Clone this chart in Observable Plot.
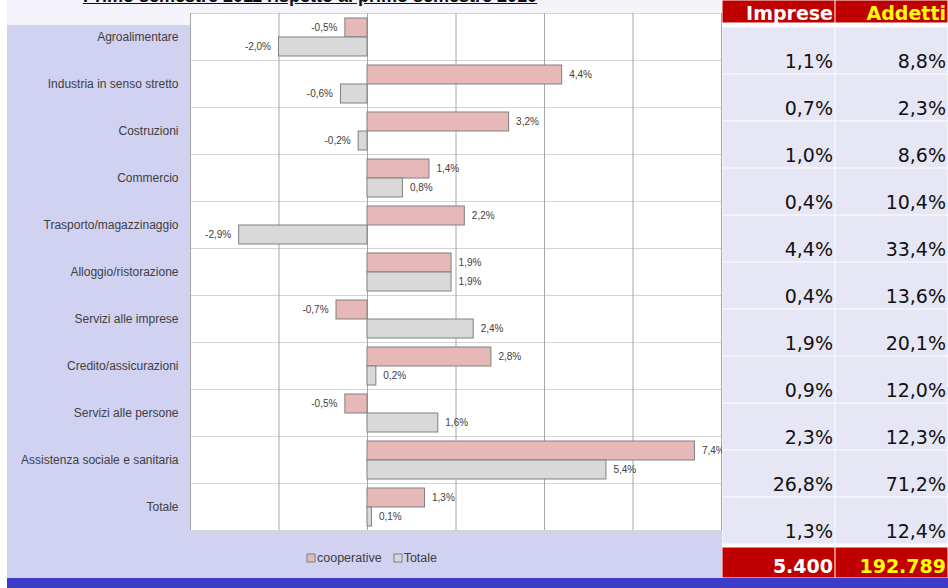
<!DOCTYPE html>
<html><head><meta charset="utf-8">
<script src="https://cdn.jsdelivr.net/npm/d3@7"></script>
<script src="https://cdn.jsdelivr.net/npm/@observablehq/plot@0.6"></script>
<style>
html,body{margin:0;padding:0;background:#fff}
#root{position:relative;width:948px;height:588px;overflow:hidden;background:#fff}
.abs{position:absolute}
#topband{left:7px;top:0;width:941px;height:25px;background:#f3f3f9}
#lav{left:7px;top:25px;width:941px;height:553px;background:#d1d1f1}
#blue{left:7px;top:578px;width:941px;height:10px;background:#3c3cc8}
#title{left:10px;top:-14px;width:600px;text-align:center;font:bold 18px 'Liberation Sans',Arial,sans-serif;color:#111;text-decoration:underline;white-space:nowrap;line-height:20px}
#chart{left:0;top:0}
#legend{left:307px;top:551px}
#thead{left:722px;top:0}
#tbody{left:722px;top:23px}
#tfoot{left:722px;top:547px}
.lg-swatches-wrap{min-height:0 !important;}
.lg-swatch{margin-right:12px !important}
.lg-swatch > svg{margin-right:2px !important}
.lg-swatch rect{stroke:#7f7f7f;stroke-width:1}
</style></head><body>
<div id="root">
  <div id="topband" class="abs"></div>
  <div id="lav" class="abs"></div>
  <div id="blue" class="abs"></div>
  <div id="title" class="abs">Primo semestre 2011 rispetto al primo semestre 2010</div>
  <div id="chart" class="abs"></div>
  <div id="legend" class="abs"></div>
  <div id="thead" class="abs"></div>
  <div id="tbody" class="abs"></div>
  <div id="tfoot" class="abs"></div>
</div>
<script>
// ---- data ----
const categories = ["Agroalimentare","Industria in senso stretto","Costruzioni","Commercio","Trasporto/magazzinaggio","Alloggio/ristorazione","Servizi alle imprese","Credito/assicurazioni","Servizi alle persone","Assistenza sociale e sanitaria","Totale"];
const series = ["cooperative","Totale"];
const cooperative = [-0.5, 4.4, 3.2, 1.4, 2.2, 1.9, -0.7, 2.8, -0.5, 7.4, 1.3];
const totale = [-2.0, -0.6, -0.2, 0.8, -2.9, 1.9, 2.4, 0.2, 1.6, 5.4, 0.1];
const gridTicks = [-4, -2, 0, 2, 4, 6, 8];
const tableColumns = ["Imprese","Addetti"];
const imprese = [1.1, 0.7, 1.0, 0.4, 4.4, 0.4, 1.9, 0.9, 2.3, 26.8, 1.3];
const addetti = [8.8, 2.3, 8.6, 10.4, 33.4, 13.6, 20.1, 12.0, 12.3, 71.2, 12.4];
const totals = [5400, 192789];

const seriesColors = ["#e6b8b7", "#d9d9d9"];
const fmt = v => v.toFixed(1).replace(".", ",") + "%";
const itFmt = d3.formatLocale({decimal: ",", thousands: ".", grouping: [3], currency: ["", "€"]}).format(",");

const rows = [];
categories.forEach((c, i) => {
  rows.push({cat: c, series: "cooperative", value: cooperative[i]});
  rows.push({cat: c, series: "Totale", value: totale[i]});
});

const chart = Plot.plot({
  width: 948, height: 540,
  marginTop: 11, marginBottom: 8, marginLeft: 190, marginRight: 227,
  style: {background: "transparent", fontFamily: "'Liberation Sans', Arial, sans-serif", fontSize: "12px", color: "#404040", overflow: "visible"},
  facet: {data: rows, y: "cat"},
  fy: {domain: categories, padding: 0, axis: "left", tickSize: 0, tickPadding: 12, label: null},
  y: {domain: series, paddingInner: 0, paddingOuter: 0.18, axis: null},
  x: {domain: [-4, 8], axis: null},
  color: {domain: series, range: seriesColors},
  marks: [
    Plot.frame({fill: "white", stroke: "#d4d4d4"}),
    Plot.ruleX(gridTicks, {stroke: "#a6a6a6"}),
    Plot.barX(rows, {x: "value", y: "series", fill: "series", stroke: "#808080", strokeWidth: 1}),
    Plot.text(rows, {filter: d => d.value >= 0, x: "value", y: "series", text: d => fmt(d.value), textAnchor: "start", dx: 7, fontSize: 10, fill: "#404040"}),
    Plot.text(rows, {filter: d => d.value < 0, x: "value", y: "series", text: d => fmt(d.value), textAnchor: "end", dx: -8, fontSize: 10, fill: "#404040"})
  ]
});
document.getElementById("chart").appendChild(chart);

const legend = Plot.legend({
  color: {domain: series, range: seriesColors},
  legend: "swatches", swatchSize: 8, className: "lg",
  style: {fontFamily: "'Liberation Sans', Arial, sans-serif", fontSize: "12.5px", color: "#404040", background: "transparent"}
});
document.getElementById("legend").appendChild(legend);

// ---- table ----
const tfont = "'DejaVu Sans', Verdana, sans-serif";
const head = Plot.plot({
  width: 226, height: 23, margin: 0,
  style: {background: "white", fontFamily: tfont},
  x: {domain: tableColumns, padding: 0, axis: null},
  color: {domain: tableColumns, range: ["#ffffff", "#ffff00"]},
  marks: [
    Plot.cell(tableColumns, {x: d => d, fill: "#c00000", inset: 0.5}),
    Plot.text(tableColumns, {x: d => d, text: d => d, fill: d => d, frameAnchor: "bottom", lineAnchor: "bottom", textAnchor: "end", dx: 54, dy: -4, fontSize: 19, fontWeight: "bold"})
  ]
});
document.getElementById("thead").appendChild(head);

const tableRows = [];
categories.forEach((c, i) => {
  tableRows.push({cat: c, col: "Imprese", value: imprese[i]});
  tableRows.push({cat: c, col: "Addetti", value: addetti[i]});
});
const body = Plot.plot({
  width: 226, height: 524, margin: 0,
  style: {background: "white", fontFamily: tfont},
  x: {domain: tableColumns, padding: 0, axis: null},
  y: {domain: categories, padding: 0, axis: null},
  marks: [
    Plot.cell(tableRows, {x: "col", y: "cat", fill: "#e6e6f4", inset: 0.5}),
    Plot.text(tableRows, {x: "col", y: "cat", text: d => fmt(d.value), lineAnchor: "bottom", textAnchor: "end", dx: 54, dy: 17, fontSize: 19, fill: "#111"})
  ]
});
document.getElementById("tbody").appendChild(body);

const foot = Plot.plot({
  width: 226, height: 31, margin: 0,
  style: {background: "white", fontFamily: tfont},
  x: {domain: tableColumns, padding: 0, axis: null},
  color: {domain: tableColumns, range: ["#ffffff", "#ffff00"]},
  marks: [
    Plot.cell(totals, {x: (d, i) => tableColumns[i], fill: "#c00000", inset: 0.5}),
    Plot.text(totals, {x: (d, i) => tableColumns[i], text: d => itFmt(d), fill: (d, i) => tableColumns[i], frameAnchor: "bottom", lineAnchor: "bottom", textAnchor: "end", dx: 54, dy: -6, fontSize: 19, fontWeight: "bold"})
  ]
});
document.getElementById("tfoot").appendChild(foot);
</script>
</body></html>
